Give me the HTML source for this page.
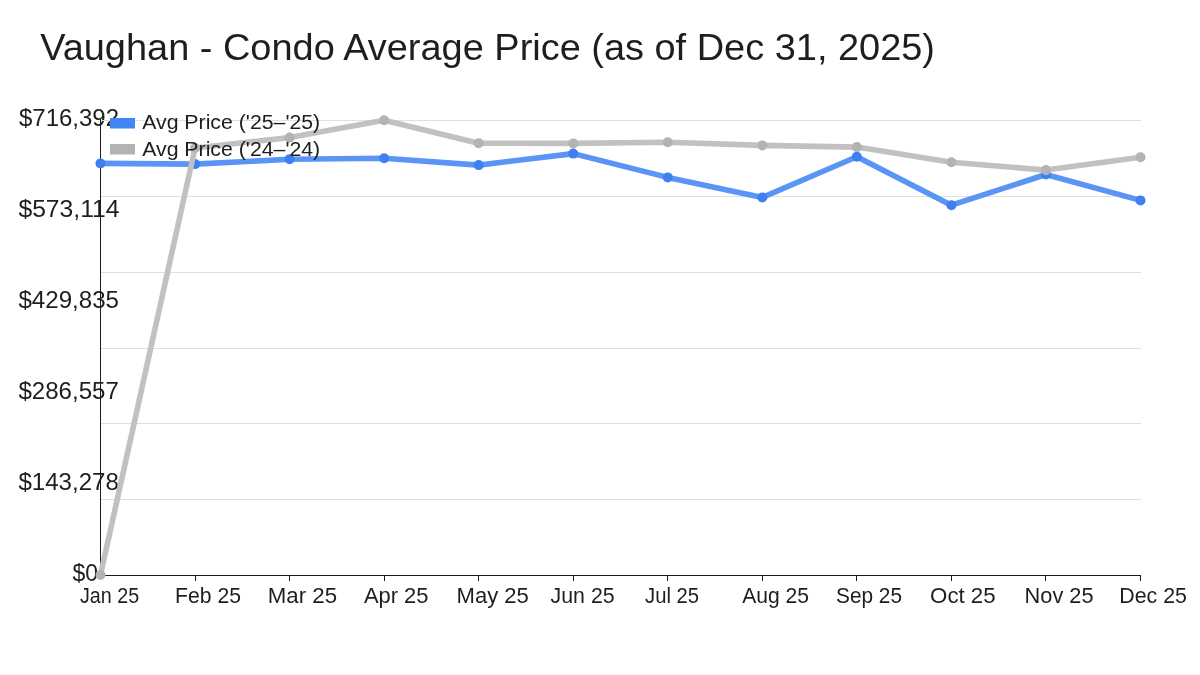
<!DOCTYPE html>
<html><head><meta charset="utf-8"><style>
html,body{margin:0;padding:0;background:#fff;width:1200px;height:675px;overflow:hidden}
svg{display:block;will-change:transform}
text{font-family:"Liberation Sans",sans-serif;fill:#1e1e1e}
</style></head><body>
<svg width="1200" height="675" viewBox="0 0 1200 675">
<rect width="1200" height="675" fill="#fff"/>
<text x="40.20" y="60.40" font-size="36" textLength="894.80" lengthAdjust="spacingAndGlyphs">Vaughan - Condo Average Price (as of Dec 31, 2025)</text>
<text x="19.00" y="125.80" font-size="23.3" textLength="100.00" lengthAdjust="spacingAndGlyphs">$716,392</text>
<text x="18.40" y="216.80" font-size="23.3" textLength="101.20" lengthAdjust="spacingAndGlyphs">$573,114</text>
<text x="18.40" y="307.80" font-size="23.3" textLength="100.60" lengthAdjust="spacingAndGlyphs">$429,835</text>
<text x="18.40" y="398.80" font-size="23.3" textLength="100.40" lengthAdjust="spacingAndGlyphs">$286,557</text>
<text x="18.40" y="489.80" font-size="23.3" textLength="100.40" lengthAdjust="spacingAndGlyphs">$143,278</text>
<text x="72.40" y="580.80" font-size="23.3" textLength="25.60" lengthAdjust="spacingAndGlyphs">$0</text>
<text x="80.00" y="603.00" font-size="22" textLength="59.10" lengthAdjust="spacingAndGlyphs">Jan 25</text>
<text x="175.10" y="603.00" font-size="22" textLength="65.90" lengthAdjust="spacingAndGlyphs">Feb 25</text>
<text x="267.80" y="603.00" font-size="22" textLength="69.30" lengthAdjust="spacingAndGlyphs">Mar 25</text>
<text x="363.90" y="603.00" font-size="22" textLength="64.60" lengthAdjust="spacingAndGlyphs">Apr 25</text>
<text x="456.50" y="603.00" font-size="22" textLength="72.40" lengthAdjust="spacingAndGlyphs">May 25</text>
<text x="550.60" y="603.00" font-size="22" textLength="64.00" lengthAdjust="spacingAndGlyphs">Jun 25</text>
<text x="645.00" y="603.00" font-size="22" textLength="54.10" lengthAdjust="spacingAndGlyphs">Jul 25</text>
<text x="742.20" y="603.00" font-size="22" textLength="66.80" lengthAdjust="spacingAndGlyphs">Aug 25</text>
<text x="836.00" y="603.00" font-size="22" textLength="66.00" lengthAdjust="spacingAndGlyphs">Sep 25</text>
<text x="930.10" y="603.00" font-size="22" textLength="65.50" lengthAdjust="spacingAndGlyphs">Oct 25</text>
<text x="1024.60" y="603.00" font-size="22" textLength="69.00" lengthAdjust="spacingAndGlyphs">Nov 25</text>
<text x="1119.30" y="603.00" font-size="22" textLength="67.70" lengthAdjust="spacingAndGlyphs">Dec 25</text>
<g stroke="#e0e0e0" stroke-width="1"><line x1="100" x2="1141" y1="120.50" y2="120.50"/><line x1="100" x2="1141" y1="196.50" y2="196.50"/><line x1="100" x2="1141" y1="272.50" y2="272.50"/><line x1="100" x2="1141" y1="348.50" y2="348.50"/><line x1="100" x2="1141" y1="423.50" y2="423.50"/><line x1="100" x2="1141" y1="499.50" y2="499.50"/></g>
<g stroke="#1a1a1a" stroke-width="1">
<line x1="100.5" x2="100.5" y1="119" y2="575.5"/>
<line x1="100" x2="1140.5" y1="575.5" y2="575.5"/>
<line x1="195.50" x2="195.50" y1="575" y2="581"/><line x1="289.50" x2="289.50" y1="575" y2="581"/><line x1="384.50" x2="384.50" y1="575" y2="581"/><line x1="478.50" x2="478.50" y1="575" y2="581"/><line x1="573.50" x2="573.50" y1="575" y2="581"/><line x1="667.50" x2="667.50" y1="575" y2="581"/><line x1="762.50" x2="762.50" y1="575" y2="581"/><line x1="856.50" x2="856.50" y1="575" y2="581"/><line x1="951.50" x2="951.50" y1="575" y2="581"/><line x1="1045.50" x2="1045.50" y1="575" y2="581"/><line x1="1140.50" x2="1140.50" y1="575" y2="581"/>
</g>
<polyline points="100.50,163.40 195.05,164.10 289.59,159.30 384.14,158.20 478.68,165.10 573.23,153.60 667.77,177.40 762.32,197.40 856.86,156.80 951.41,205.20 1045.95,174.50 1140.50,200.40" fill="none" stroke="#5a95f5" stroke-width="5.6" stroke-linejoin="round"/>
<g fill="#3f80f0"><circle cx="100.50" cy="163.40" r="5"/><circle cx="195.05" cy="164.10" r="5"/><circle cx="289.59" cy="159.30" r="5"/><circle cx="384.14" cy="158.20" r="5"/><circle cx="478.68" cy="165.10" r="5"/><circle cx="573.23" cy="153.60" r="5"/><circle cx="667.77" cy="177.40" r="5"/><circle cx="762.32" cy="197.40" r="5"/><circle cx="856.86" cy="156.80" r="5"/><circle cx="951.41" cy="205.20" r="5"/><circle cx="1045.95" cy="174.50" r="5"/><circle cx="1140.50" cy="200.40" r="5"/></g>
<polyline points="100.50,575.00 195.05,148.00 289.59,137.60 384.14,120.30 478.68,143.20 573.23,143.40 667.77,142.30 762.32,145.40 856.86,147.10 951.41,162.20 1045.95,170.10 1140.50,157.30" fill="none" stroke="#c1c1c1" stroke-width="5.6" stroke-linejoin="round"/>
<g fill="#b3b3b3"><circle cx="100.50" cy="575.00" r="5"/><circle cx="195.05" cy="148.00" r="5"/><circle cx="289.59" cy="137.60" r="5"/><circle cx="384.14" cy="120.30" r="5"/><circle cx="478.68" cy="143.20" r="5"/><circle cx="573.23" cy="143.40" r="5"/><circle cx="667.77" cy="142.30" r="5"/><circle cx="762.32" cy="145.40" r="5"/><circle cx="856.86" cy="147.10" r="5"/><circle cx="951.41" cy="162.20" r="5"/><circle cx="1045.95" cy="170.10" r="5"/><circle cx="1140.50" cy="157.30" r="5"/></g>
<rect x="110" y="118" width="25" height="10.5" fill="#4285f4"/>
<rect x="110" y="144" width="25" height="10.5" fill="#b3b3b3"/>
<text x="142.20" y="129.20" font-size="20" textLength="178.00" lengthAdjust="spacingAndGlyphs">Avg Price ('25–'25)</text><text x="142.20" y="155.50" font-size="20" textLength="178.00" lengthAdjust="spacingAndGlyphs">Avg Price ('24–'24)</text>
</svg>
</body></html>
